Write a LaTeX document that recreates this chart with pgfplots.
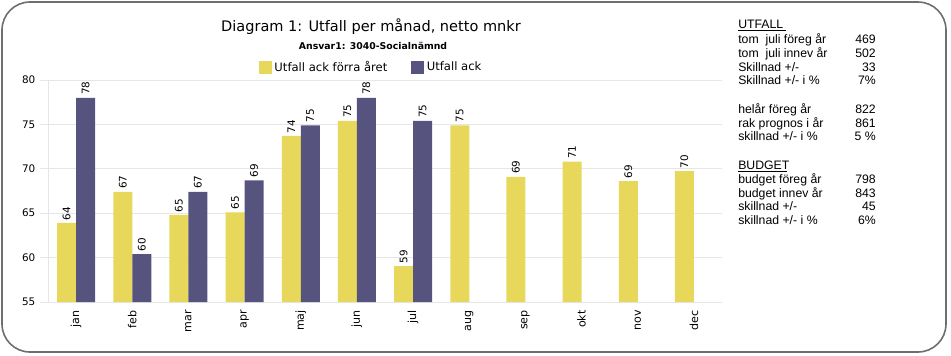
\documentclass[border=0pt]{standalone}
\usepackage{pgfplots}
\pgfplotsset{compat=1.18}
\usepackage{fontspec}
\setmainfont{DejaVu Sans}
\newfontfamily\arialf{Liberation Sans}
\definecolor{byel}{HTML}{E7D85C}
\definecolor{bpur}{HTML}{56547F}
\definecolor{gridc}{HTML}{E6E6E6}
\definecolor{framec}{HTML}{6E6E6E}
\newcommand{\rrow}[3]{\node[anchor=base west] at (738,#3) {#1};\node[anchor=base east] at (876,#3) {#2};}
\begin{document}
\begin{tikzpicture}
\path[use as bounding box] (0,0) rectangle (713.25pt,-266.25pt);
\begin{axis}[
  at={(36pt,-226.5pt)}, anchor=south west,
  scale only axis, width=505.5pt, height=166.5pt,
  xmin=-0.5, xmax=11.5, ymin=55, ymax=80,
  ytick={55,60,...,80},
  xtick={0,...,11},
  xticklabels={jan,feb,mar,apr,maj,jun,jul,aug,sep,okt,nov,dec},
  x tick label style={rotate=90, anchor=east, inner sep=0pt, font=\fontsize{8.3}{9}\selectfont},
  y tick label style={font=\fontsize{7.8}{8}\selectfont},
  /pgf/number format/assume math mode=true,
  ymajorgrids, grid style={gridc, line width=0.75pt},
  axis x line*=bottom, axis y line*=left,
  axis line style={gridc, line width=0.75pt},
  x axis line style={-}, y axis line style={-},
  major x tick style={draw=none},
  major y tick style={gridc, line width=0.75pt},
  tick align=outside, major tick length=6pt,
  xtick pos=bottom, ytick pos=left,
  ybar=0pt, bar width=14.25pt,
  nodes near coords,
  nodes near coords style={rotate=90, anchor=west, font=\fontsize{7.8}{8}\selectfont, /pgf/number format/precision=0, /pgf/number format/fixed, inner sep=2pt},
  legend columns=2,
  legend style={at={(0.48,1.005)}, anchor=south, draw=none, font=\fontsize{8.7}{10}\selectfont,
    /tikz/every even column/.append style={column sep=16pt}},
  legend image code/.code={\fill[#1,draw=none] (0pt,-4.8pt) rectangle (9.6pt,4.8pt);},
]
\addplot[fill=byel, draw=none, bar shift=-7.125pt] coordinates {
 (0,63.9) (1,67.4) (2,64.8) (3,65.1) (4,73.7) (5,75.4) (6,59.05) (7,74.9) (8,69.1) (9,70.8) (10,68.6) (11,69.75)};
\addplot[fill=bpur, draw=none, bar shift=7.125pt] coordinates {
 (0,78.0) (1,60.4) (2,67.4) (3,68.7) (4,74.9) (5,78.0) (6,75.4)};
\legend{Utfall ack förra året, Utfall ack}
\end{axis}
\begin{scope}[x=0.75pt,y=-0.75pt]
\draw[framec, line width=1.2pt, rounded corners=21pt] (2,2) rectangle (946,352);
\node[font=\fontsize{10.9}{12}\selectfont] at (371,27) {Diagram 1: Utfall per månad, netto mnkr};
\node[font=\bfseries\fontsize{7}{8}\selectfont] at (373,46) {Ansvar1: 3040-Socialnämnd};
\begin{scope}[every node/.style={font=\arialf\fontsize{9.2}{10}\selectfont, inner sep=0pt}]
\node[anchor=base west] at (738,28) {UTFALL};
\draw[black, line width=0.6pt] (738,30) -- (786,30);
\rrow{tom\ \ juli föreg år}{469}{43}
\rrow{tom\ \ juli innev år}{502}{57}
\rrow{Skillnad +/-}{33}{71}
\rrow{Skillnad +/- i \%}{7\%}{84}
\rrow{helår föreg år}{822}{113}
\rrow{rak prognos i år}{861}{127}
\rrow{skillnad +/- i \%}{5 \%}{140}
\node[anchor=base west] at (738,169) {BUDGET};
\draw[black, line width=0.6pt] (738,171) -- (787,171);
\rrow{budget föreg år}{798}{183}
\rrow{budget innev år}{843}{197}
\rrow{skillnad +/-}{45}{210}
\rrow{skillnad +/- i \%}{6\%}{224}
\end{scope}
\end{scope}
\end{tikzpicture}
\end{document}
